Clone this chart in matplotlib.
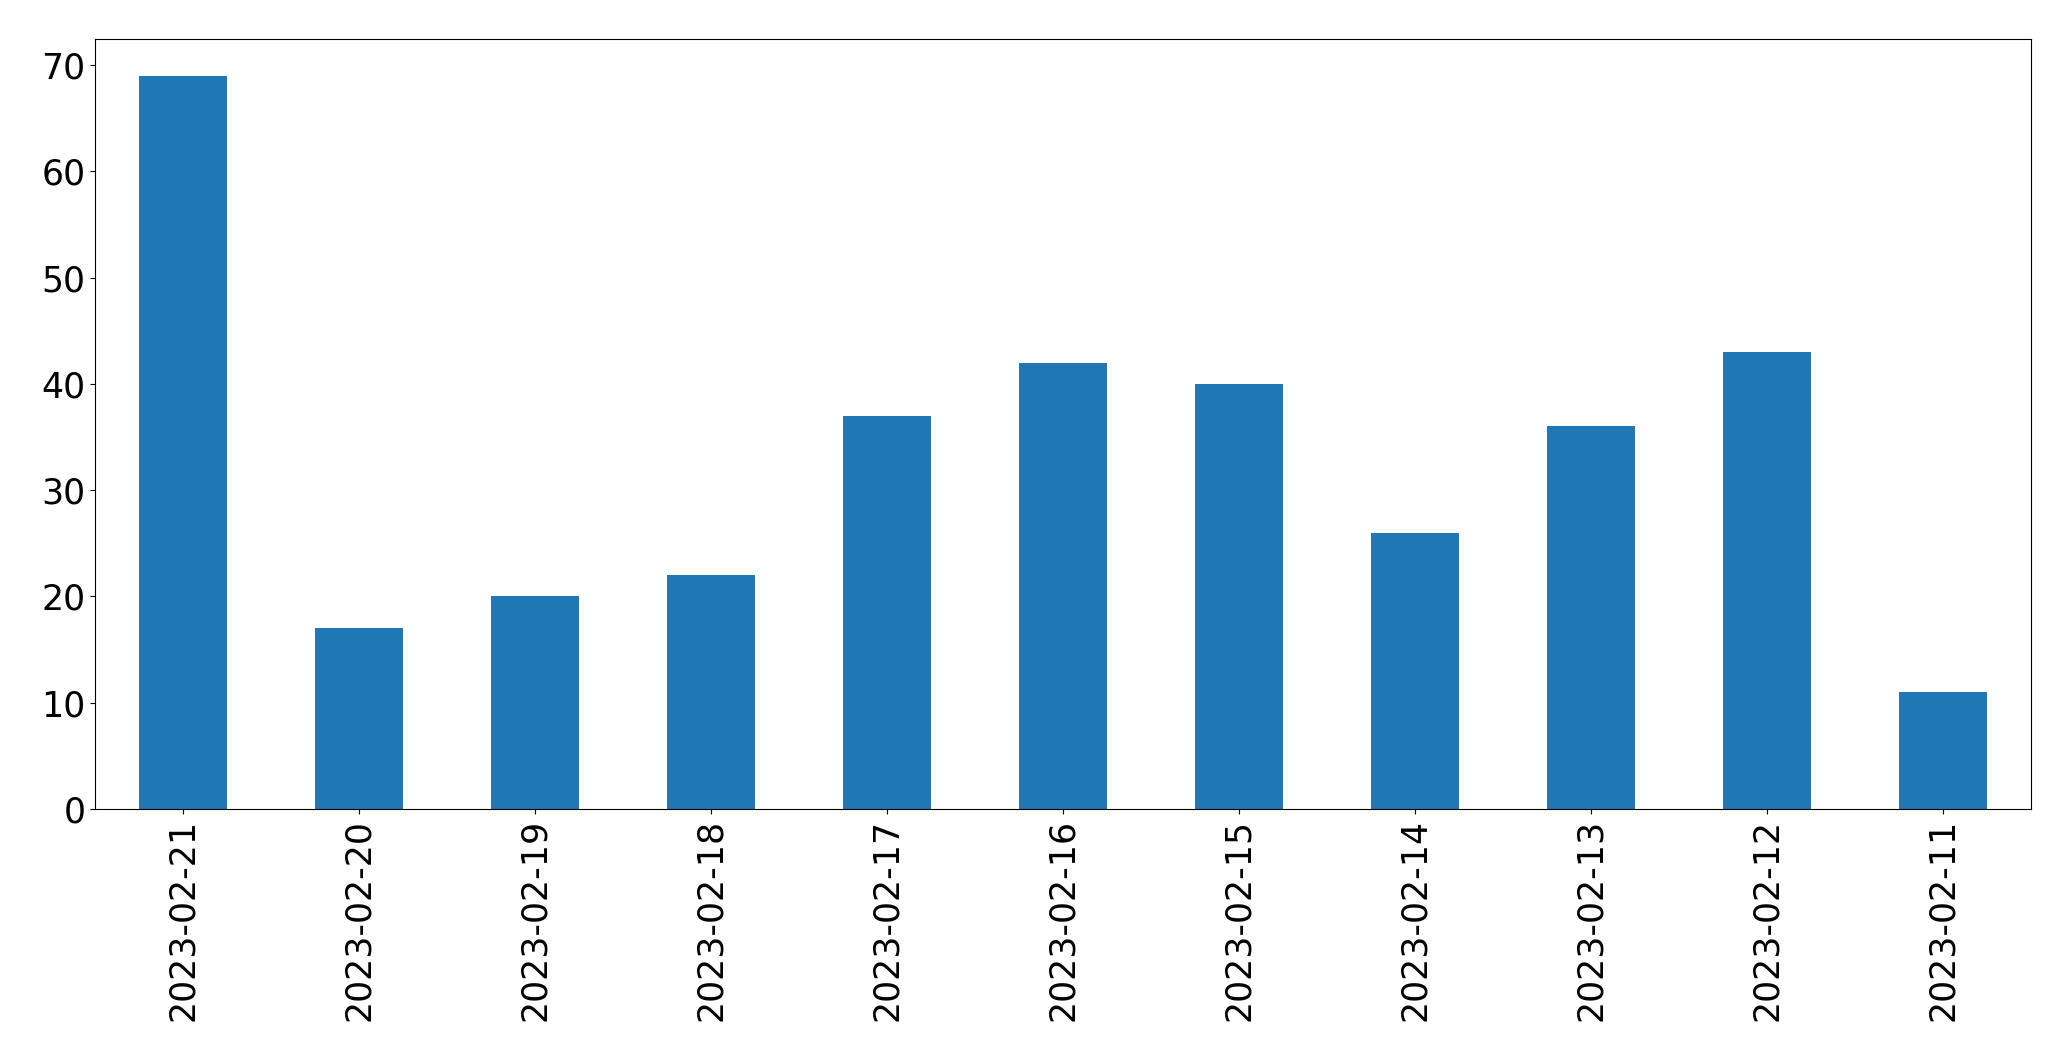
import matplotlib
matplotlib.use("Agg")
import matplotlib.pyplot as plt
import pandas as pd

# daily counts, newest first (as in the reference)
dates = ["2023-02-21", "2023-02-20", "2023-02-19", "2023-02-18", "2023-02-17",
         "2023-02-16", "2023-02-15", "2023-02-14", "2023-02-13", "2023-02-12",
         "2023-02-11"]
counts = [69, 17, 20, 22, 37, 42, 40, 26, 36, 43, 11]

s = pd.Series(counts, index=dates)

fig = plt.figure(figsize=(20.71, 10.61), dpi=100)
ax = fig.add_axes([95 / 2071, 1 - 809 / 1061, (2031 - 95) / 2071, (809 - 39) / 1061])
s.plot.bar(ax=ax, color="#1f77b4", fontsize=25)
ax.tick_params(axis="both", labelsize=25)

fig.savefig("out.png", dpi=100)
